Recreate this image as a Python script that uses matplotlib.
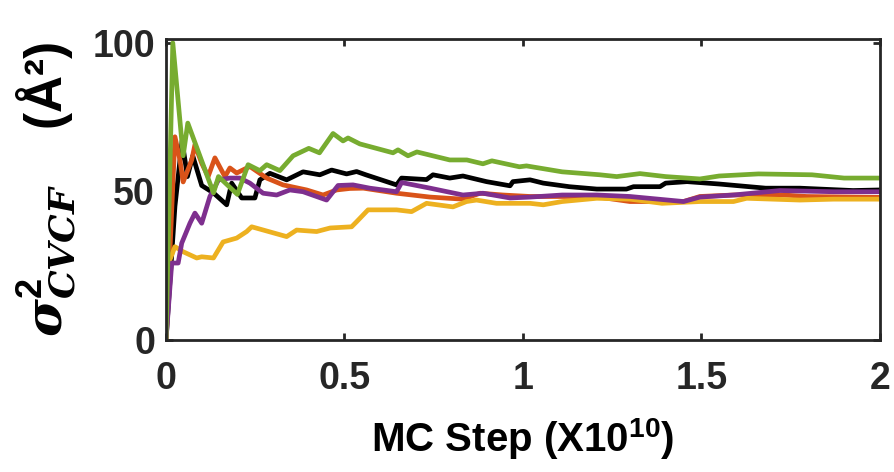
import matplotlib
matplotlib.use("Agg")
import matplotlib.pyplot as plt

# MC step (x1e10) and sigma^2 values
black_x = [0, 0.025, 0.045, 0.06, 0.075, 0.1, 0.133, 0.17, 0.184, 0.212, 0.249, 0.263, 0.291, 0.338,
           0.384, 0.431, 0.464, 0.506, 0.534, 0.56, 0.646, 0.66, 0.73, 0.748, 0.795, 0.832, 0.898,
           0.964, 0.972, 1.02, 1.057, 1.13, 1.207, 1.29, 1.31, 1.384, 1.40, 1.46, 1.55, 1.68, 1.776,
           1.925, 2.0]
black_y = [0, 45, 67, 55, 62, 52, 49.5, 45.5, 52.8, 47.8, 47.8, 53.9, 56.1, 53.9,
           56.6, 55.6, 57.2, 55.9, 56.7, 55.6, 52.2, 54.5, 54, 55.6, 54.5, 55.2, 53.3,
           51.9, 53.3, 53.9, 52.8, 51.6, 50.8, 50.8, 51.6, 51.6, 52.8, 53.3, 52.5, 51.1, 51.1,
           50.3, 50.5]

orange_x = [0, 0.025, 0.039, 0.048, 0.072, 0.081, 0.1, 0.118, 0.137, 0.165, 0.179, 0.198, 0.235,
            0.282, 0.328, 0.394, 0.44, 0.478, 0.515, 0.553, 0.646, 0.74, 0.832, 0.88, 0.944, 1.02,
            1.2, 1.3, 1.45, 1.496, 1.59, 1.73, 1.795, 2.0]
orange_y = [0, 68.4, 60.6, 53.2, 60.6, 65.7, 59.5, 55, 61.3, 55, 57.9, 56.2, 58.4,
            54.5, 52.2, 50.5, 48.8, 50.5, 51, 51.1, 49.4, 48.1, 47.4, 49.4, 48.8, 48.3,
            48.3, 46.6, 46.6, 48.3, 48.8, 48.8, 48.3, 48]

yellow_x = [0, 0.011, 0.025, 0.048, 0.086, 0.1, 0.133, 0.16, 0.198, 0.226, 0.24, 0.338, 0.366,
            0.422, 0.46, 0.52, 0.534, 0.566, 0.646, 0.688, 0.73, 0.804, 0.842, 0.87, 0.926, 1.02,
            1.057, 1.11, 1.207, 1.3, 1.39, 1.496, 1.59, 1.627, 1.776, 1.87, 2.0]
yellow_y = [0, 27, 31.4, 29.7, 27.6, 28, 27.6, 33, 34.3, 36.5, 38.1, 34.8, 37,
            36.5, 37.7, 38.1, 39.8, 43.8, 43.8, 43.2, 46, 44.8, 46.6, 47.1, 46, 46,
            45.5, 46.6, 47.7, 47.4, 46, 46.6, 46.6, 47.7, 47.1, 47.4, 47.4]

purple_x = [0, 0.016, 0.034, 0.044, 0.067, 0.081, 0.1, 0.123, 0.147, 0.179, 0.207, 0.235, 0.272,
            0.31, 0.347, 0.384, 0.45, 0.482, 0.524, 0.571, 0.646, 0.66, 0.74, 0.832, 0.888, 0.964,
            1.02, 1.11, 1.207, 1.3, 1.45, 1.496, 1.59, 1.72, 1.87, 2.0]
purple_y = [0, 25.9, 25.9, 32.6, 39.3, 42.7, 39.3, 48.3, 53.9, 54.5, 54.5, 52.8, 49.4,
            48.8, 50.5, 49.9, 47.1, 52, 52.2, 51.1, 49.9, 53, 51.1, 48.8, 49.4, 47.8,
            48.1, 48.8, 48.8, 48.3, 46.6, 48.1, 48.8, 50.3, 49.9, 49.9]

green_x = [0, 0.019, 0.048, 0.061, 0.133, 0.147, 0.2, 0.23, 0.263, 0.282, 0.319, 0.356, 0.40,
           0.43, 0.468, 0.496, 0.51, 0.543, 0.636, 0.65, 0.678, 0.703, 0.795, 0.843, 0.888, 0.913,
           0.99, 1.01, 1.11, 1.216, 1.263, 1.328, 1.40, 1.496, 1.55, 1.66, 1.81, 1.9, 2.0]
green_y = [0, 100, 62, 73, 49.5, 55, 49, 59, 57, 59, 57, 62, 64.5,
           63, 69.5, 67, 68, 66, 63, 64, 62, 63.3, 60.6, 60.6, 59.3, 60.3,
           58.3, 58.6, 56.6, 55.6, 55, 56, 55, 54.2, 55.2, 55.9, 55.6, 54.5, 54.5]

x_ticks = [0, 0.5, 1, 1.5, 2]
x_tick_labels = ["0", "0.5", "1", "1.5", "2"]
y_ticks = [0, 50, 100]

plt.rcParams["font.family"] = ["Liberation Sans", "DejaVu Sans"]
plt.rcParams["font.weight"] = "bold"
plt.rcParams["mathtext.fontset"] = "custom"
plt.rcParams["mathtext.rm"] = "Liberation Sans:bold"
plt.rcParams["mathtext.bf"] = "Liberation Sans:bold"
plt.rcParams["mathtext.it"] = "DejaVu Serif:italic:bold"
plt.rcParams["mathtext.bfit"] = "DejaVu Serif:italic:bold"

fig = plt.figure(figsize=(8.95, 4.72), dpi=100)
ax = fig.add_axes([0.1855, 0.2797, 0.7975, 0.6376])

lw = 3.4
ax.plot(black_x, black_y, color="black", lw=lw)
ax.plot(orange_x, orange_y, color="#D95319", lw=lw)
ax.plot(yellow_x, yellow_y, color="#EDB120", lw=lw)
ax.plot(purple_x, purple_y, color="#7E2F8E", lw=lw)
ax.plot(green_x, green_y, color="#77AC30", lw=lw)

ax.set_xlim(0, 2)
ax.set_ylim(0, 101.3)
ax.set_xticks(x_ticks)
ax.set_xticklabels(x_tick_labels)
ax.set_yticks(y_ticks)

dark = "#262626"
for s in ax.spines.values():
    s.set_linewidth(2.0)
    s.set_color(dark)
ax.tick_params(direction="in", length=5, width=2, colors=dark, top=True, right=True,
               labelsize=27)
ax.tick_params(axis="x", pad=15)
ax.tick_params(axis="y", pad=8)
for lab in ax.get_xticklabels() + ax.get_yticklabels():
    lab.set_fontweight("bold")

ax.set_xlabel(r"MC Step (X10$^{\mathbf{10}}$)", fontsize=29, fontweight="bold", color="black")
ax.xaxis.set_label_coords(0.5, -0.255)
ax.set_ylabel(r"$\mathbfit{\sigma}^{\mathbf{2}}_{\mathbfit{CVCF}}$    (Å²)",
              fontsize=37, fontweight="bold", color="black")
ax.yaxis.set_label_coords(-0.123, 0.50)

fig.savefig("out.png", dpi=100)
